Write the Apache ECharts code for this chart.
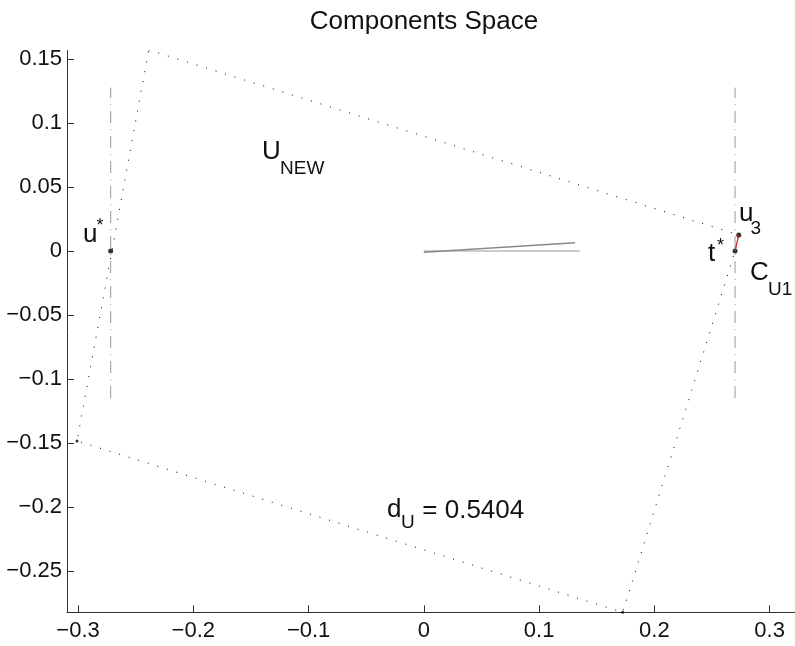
<!DOCTYPE html>
<html><head><meta charset="utf-8">
<script src="https://cdn.jsdelivr.net/npm/echarts@6/dist/echarts.min.js"></script>
<style>html,body{margin:0;padding:0;background:#fff}#c{width:795px;height:646px}</style>
</head><body><div id="c"></div>
<script>
// ---- data ----
const titleText = 'Components Space';
const xTicks = [-0.3, -0.2, -0.1, 0, 0.1, 0.2, 0.3];
const yTicks = [0.15, 0.1, 0.05, 0, -0.05, -0.1, -0.15, -0.2, -0.25];
const xLimits = [-0.3096, 0.322];
const yLimits = [-0.2823, 0.1566];
const polygonX = [-0.2387, 0.2732, 0.2700, 0.1725, -0.3009, -0.2387];
const polygonY = [0.1570, 0.0125, 0.0, -0.2823, -0.1484, 0.1570];
const cornerX = [-0.2387, 0.1725, -0.3009];
const cornerY = [0.1570, -0.2823, -0.1484];
const keyX = [-0.2717, 0.2700, 0.2732];
const keyY = [0, 0, 0.0125];
const redX = [0.2732, 0.2700];
const redY = [0.0125, 0.0];
const boundY = [-0.115, 0.1276];
const leftBoundX = [-0.2717, -0.2717];
const rightBoundX = [0.2700, 0.2700];
const vec1X = [0, 0.1311];
const vec1Y = [-0.001, 0.0065];
const vec2X = [0, 0.1354];
const vec2Y = [0, 0];
const annotations = [
  {t: 'U', x: -0.1404, y: 0.0773, s: 26},
  {t: 'NEW', x: -0.1248, y: 0.0642, s: 19},
  {t: 'u', x: -0.2957, y: 0.0124, s: 26},
  {t: '*', x: -0.2840, y: 0.0195, s: 18},
  {t: 'u', x: 0.2735, y: 0.0288, s: 26},
  {t: '3', x: 0.2834, y: 0.0171, s: 19},
  {t: 't', x: 0.2466, y: -0.0024, s: 26},
  {t: '*', x: 0.2544, y: 0.0038, s: 18},
  {t: 'C', x: 0.2830, y: -0.0173, s: 26},
  {t: 'U1', x: 0.2986, y: -0.0305, s: 19},
  {t: 'd', x: -0.0319, y: -0.2020, s: 26},
  {t: 'U', x: -0.0198, y: -0.2126, s: 19},
  {t: ' = 0.5404', x: -0.0076, y: -0.2032, s: 26}
];

const FONT = "'Liberation Sans', Arial, Helvetica, sans-serif";
const zip = (a, b) => a.map((v, i) => [v, b[i]]);
const fmt = v => (v < 0 ? '\u2212' + String(Math.abs(v)) : String(v));

const chart = echarts.init(document.getElementById('c'), null, {renderer: 'canvas'});
const axisCommon = {
  type: 'value',
  axisLine: {show: true, onZero: false, lineStyle: {color: '#333', width: 1}},
  axisTick: {show: true, inside: true, length: 7, lineStyle: {color: '#333'}},
  axisLabel: {color: '#111', fontSize: 22, fontFamily: FONT, formatter: fmt},
  splitLine: {show: false}
};
chart.setOption({
  animation: false,
  backgroundColor: '#fff',
  grid: {left: 67, right: 0, top: 50.5, bottom: 33.7, containLabel: false},
  xAxis: Object.assign({}, axisCommon, {
    min: xLimits[0], max: xLimits[1],
    axisTick: Object.assign({}, axisCommon.axisTick, {customValues: xTicks}),
    axisLabel: Object.assign({}, axisCommon.axisLabel, {customValues: xTicks, margin: 8})
  }),
  yAxis: Object.assign({}, axisCommon, {
    min: yLimits[0], max: yLimits[1],
    axisTick: Object.assign({}, axisCommon.axisTick, {customValues: yTicks}),
    axisLabel: Object.assign({}, axisCommon.axisLabel, {customValues: yTicks, margin: 5})
  }),
  series: [
    {type: 'line', data: zip(polygonX, polygonY), symbol: 'none', silent: true,
     lineStyle: {color: '#000', width: 1, type: [1, 9]}},
    {type: 'line', data: zip(leftBoundX, boundY), symbol: 'none',
     lineStyle: {color: '#999', width: 1, type: [12, 6, 1, 6]}},
    {type: 'line', data: zip(rightBoundX, boundY), symbol: 'none',
     lineStyle: {color: '#999', width: 1, type: [12, 6, 1, 6]}},
    {type: 'line', data: zip(vec2X, vec2Y), symbol: 'none',
     lineStyle: {color: '#bbb', width: 1.5}},
    {type: 'line', data: zip(vec1X, vec1Y), symbol: 'none',
     lineStyle: {color: '#888', width: 1.5}},
    {type: 'line', data: zip(redX, redY), symbol: 'none',
     lineStyle: {color: '#d01a1a', width: 1.2}},
    {type: 'scatter', data: zip(cornerX, cornerY), symbol: 'circle', symbolSize: 3,
     itemStyle: {color: '#000'}},
    {type: 'scatter', data: zip(keyX, keyY), symbol: 'circle', symbolSize: 5,
     itemStyle: {color: '#000'}}
  ]
});

const graphics = [{
  type: 'text', x: 424, y: 22, z: 10,
  style: {text: titleText, fill: '#111', font: '26px ' + FONT, textAlign: 'center', textVerticalAlign: 'middle'}
}];
annotations.forEach(a => {
  const p = chart.convertToPixel({gridIndex: 0}, [a.x, a.y]);
  graphics.push({
    type: 'text', x: p[0], y: p[1], z: 10,
    style: {text: a.t, fill: '#111', font: a.s + 'px ' + FONT, textAlign: 'left', textVerticalAlign: 'middle'}
  });
});
chart.setOption({graphic: graphics});
</script>
</body></html>
